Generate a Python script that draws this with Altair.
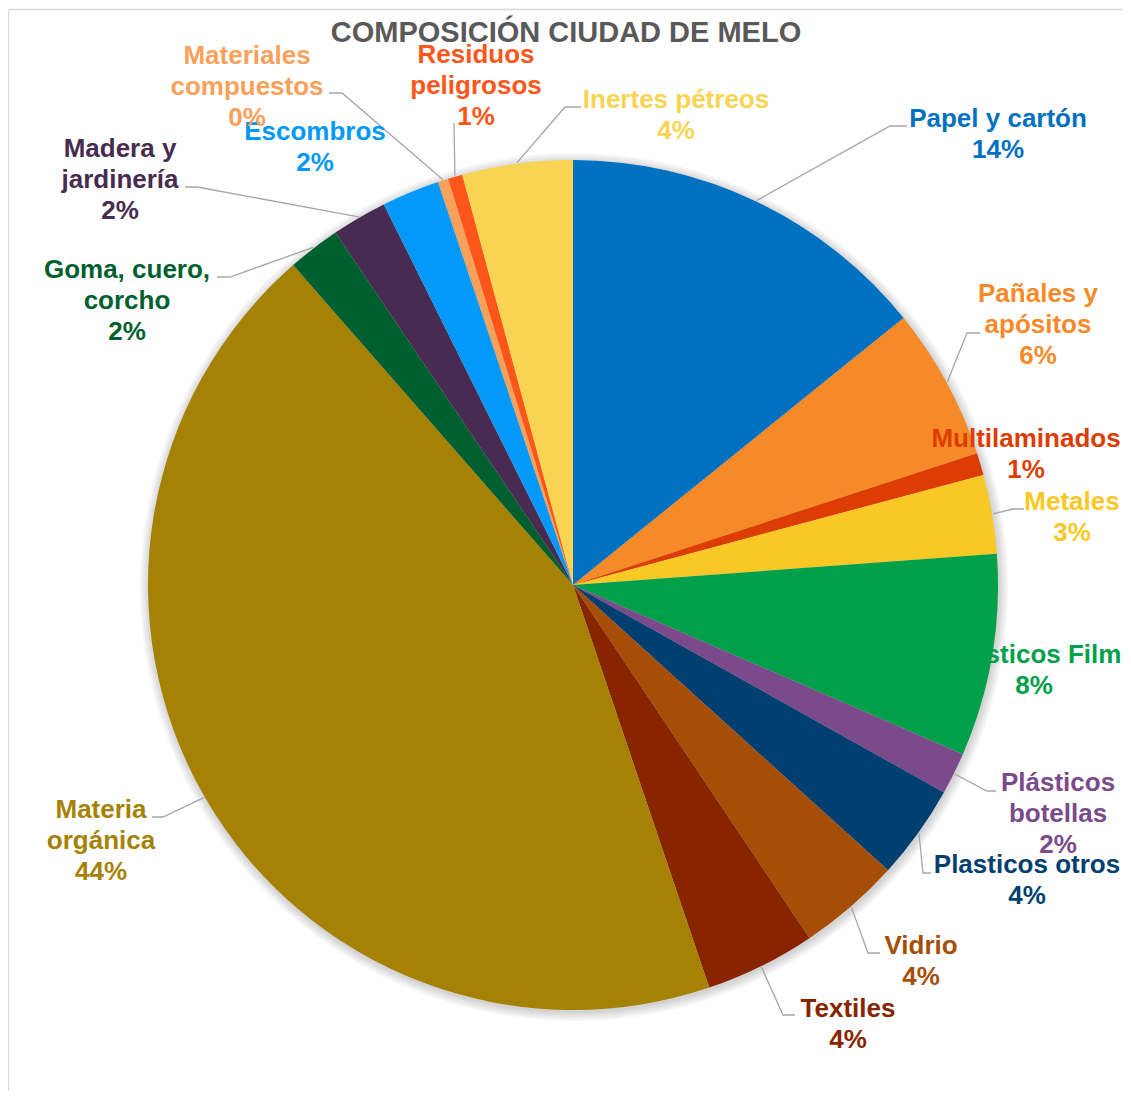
import math
import altair as alt
import pandas as pd

# ---------------- data ----------------
categories = [
    "Papel y cartón", "Pañales y apósitos", "Multilaminados", "Metales",
    "Plásticos Film", "Plásticos botellas", "Plasticos otros", "Vidrio",
    "Textiles", "Materia orgánica", "Goma, cuero, corcho", "Madera y jardinería",
    "Escombros", "Materiales compuestos", "Residuos peligrosos", "Inertes pétreos",
]
values = [14.2, 5.8, 0.85, 3.0, 7.7, 1.6, 3.6, 3.9, 4.2, 43.8, 2.0, 2.1, 2.2, 0.4, 0.55, 4.2]
colors = [
    "#0070C0", "#F68A28", "#DD3D02", "#F9C824", "#00A04B", "#7B4A8B", "#013F71", "#A64D06",
    "#892400", "#A68204", "#005F2F", "#472B51", "#0399FA", "#F9A15B", "#FE5619", "#F9D452",
]
label_names = [
    "Papel y cartón", "Pañales y\napósitos", "Multilaminados", "Metales",
    "Plásticos Film", "Plásticos\nbotellas", "Plasticos otros", "Vidrio",
    "Textiles", "Materia\norgánica", "Goma, cuero,\ncorcho", "Madera y\njardinería",
    "Escombros", "Materiales\ncompuestos", "Residuos\npeligrosos", "Inertes pétreos",
]
title_text = "COMPOSICIÓN CIUDAD DE MELO"

# ---------------- layout (page pixels) ----------------
OFF = 8
W, H = 1115, 1083
CX, CY, R = 573 - OFF, 585 - OFF, 425

label_xy = [
    (998, 127), (1038, 302), (1026, 447), (1072, 510),
    (1034, 663), (1058, 791), (1027, 873), (921, 954),
    (848, 1017), (101, 818), (127, 278), (120, 157),
    (315, 140), (247, 64), (476, 63), (676, 108),
]
# elbow and end of leader lines
leaders = {
    0: [(890, 126), (907, 126)],
    1: [(967, 333), (980, 333)],
    3: [(1013, 509), (1024, 509)],
    5: [(987, 791), (996, 791)],
    6: [(923, 873), (931, 873)],
    7: [(868, 953), (880, 953)],
    8: [(783, 1015), (795, 1015)],
    9: [(163, 817), (152, 817)],
    10: [(230, 277), (217, 277)],
    11: [(197, 187), (185, 187)],
    13: [(342, 93), (329, 93)],
    14: [(454, 123)],
    15: [(565, 107), (581, 107)],
}

FONT = "Liberation Sans"

# ---------------- tables ----------------
pie_df = pd.DataFrame({
    "category": categories,
    "value": values,
    "idx": list(range(len(categories))),
    "color": colors,
})

total = sum(values)
cum = 0.0
mids = []
for v in values:
    mids.append((cum + v / 2) / total * 2 * math.pi)
    cum += v

lab_rows = []
for i, (name, v, c) in enumerate(zip(label_names, values, colors)):
    lx, ly = label_xy[i]
    lab_rows.append({
        "label": f"{name}\n{round(v)}%",
        "px": lx - OFF,
        "py": ly - OFF,
        "color": c,
        "film": categories[i] == "Plásticos Film",
    })
lab_df = pd.DataFrame(lab_rows)

lead_rows = []
for i, pts in leaders.items():
    a = mids[i]
    sx = CX + (R + 1) * math.sin(a)
    sy = CY - (R + 1) * math.cos(a)
    seq = [(sx, sy)] + [(px - OFF, py - OFF) for px, py in pts]
    for k, (px, py) in enumerate(seq):
        lead_rows.append({"leader": i, "k": k, "px": px, "py": py})
lead_df = pd.DataFrame(lead_rows)

xs = alt.Scale(domain=[0, W], range=[0, W])
ys = alt.Scale(domain=[0, H], range=[0, H])

# ---------------- layers ----------------
one = pd.DataFrame({"a": [0]})

shadows = []
for k in range(5):
    shadows.append(
        alt.Chart(one).mark_arc(radius=R + 1 + 2 * k, theta=0, theta2=2 * math.pi,
                                color="black", opacity=0.035)
        .encode(x=alt.value(CX + 1), y=alt.value(CY + 2))
    )

border_df = pd.DataFrame({
    "x1": [0.5, 0.5], "y1": [1.5, 1.5], "x2": [W, 0.5], "y2": [1.5, H],
})
border = alt.Chart(border_df).mark_rule(color="#D9D9D9", strokeWidth=1.3).encode(
    x=alt.X("x1:Q", scale=xs, axis=None),
    y=alt.Y("y1:Q", scale=ys, axis=None),
    x2="x2:Q", y2="y2:Q",
)

def text_layer(df):
    return alt.Chart(df).mark_text(
        font=FONT, fontSize=26, fontWeight="bold", align="center",
        baseline="alphabetic", lineBreak="\n", lineHeight=31,
    ).encode(
        x=alt.X("px:Q", scale=xs, axis=None),
        y=alt.Y("py:Q", scale=ys, axis=None),
        text="label:N",
        color=alt.Color("color:N", scale=None),
    )

labels_under = text_layer(lab_df[lab_df["film"]])
labels_over = text_layer(lab_df[~lab_df["film"]])

pie = alt.Chart(pie_df).mark_arc(radius=R).encode(
    theta=alt.Theta("value:Q", stack=True),
    color=alt.Color("color:N", scale=None),
    order=alt.Order("idx:Q"),
    x=alt.value(CX),
    y=alt.value(CY),
)

lines = alt.Chart(lead_df).mark_line(color="#A6A6A6", strokeWidth=1.3).encode(
    x=alt.X("px:Q", scale=xs, axis=None),
    y=alt.Y("py:Q", scale=ys, axis=None),
    detail="leader:N",
    order="k:Q",
)

title_df = pd.DataFrame({"label": [title_text], "px": [566 - OFF], "py": [42 - OFF]})
title = alt.Chart(title_df).mark_text(
    font=FONT, fontSize=29, fontWeight="bold", align="center",
    baseline="alphabetic", color="#595959",
).encode(
    x=alt.X("px:Q", scale=xs, axis=None),
    y=alt.Y("py:Q", scale=ys, axis=None),
    text="label:N",
)

chart = alt.layer(
    *shadows, border, labels_under, pie, lines, labels_over, title
).properties(
    width=W, height=H, autosize=alt.AutoSizeParams(type="none"), padding=0,
).configure_view(stroke=None)

chart.save("out.html", embed_options={"renderer": "svg", "actions": False})
